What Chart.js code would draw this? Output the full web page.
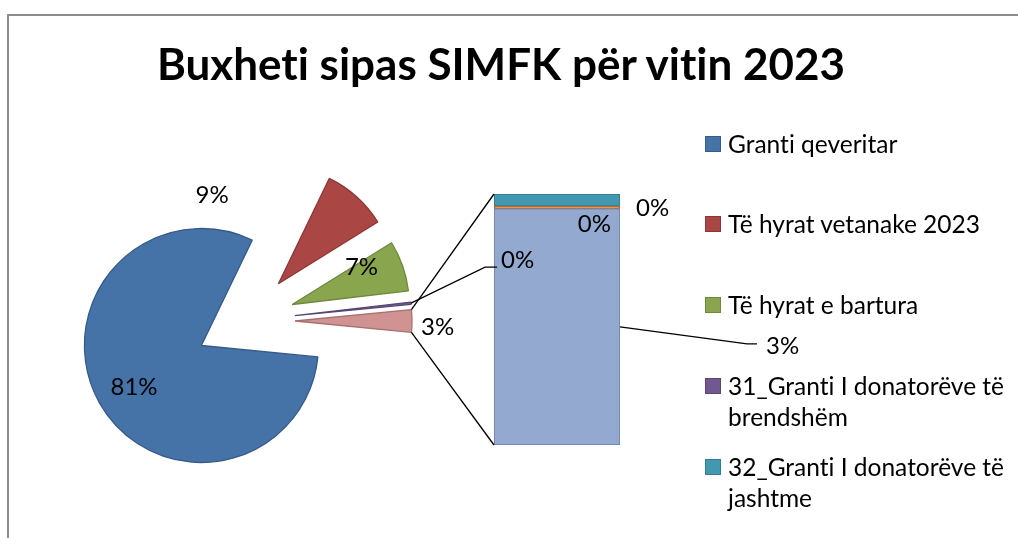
<!DOCTYPE html>
<html>
<head>
<meta charset="utf-8">
<script src="https://cdn.jsdelivr.net/npm/chart.js@4.4.0/dist/chart.umd.min.js"></script>
<style>
  body { margin: 0; background: #fff; font-family: Lato, 'DejaVu Sans', sans-serif; color: #000; font-variant-ligatures: none; }
  #wrap { position: relative; width: 1018px; height: 538px; overflow: hidden; }
  #frame { position: absolute; left: 7px; top: 14px; width: 1100px; height: 600px; border: 2px solid #8c8c8c; }
  #wrap canvas { position: absolute; left: 0; top: 0; }
  #title { position: absolute; left: 0; width: 1002px; top: 35px; text-align: center; font-weight: bold; font-size: 44px; line-height: 56px; }
  #legend { position: absolute; left: 705px; top: 0; font-size: 24.5px; line-height: 31px; }
  .item { position: absolute; left: 0; width: 300px; display: flex; }
  .sw { width: 14px; height: 14px; border: 1px solid; margin-top: 8px; margin-right: 7px; flex: none; }
</style>
</head>
<body>
<div id="wrap">
  <div id="frame"></div>
  <canvas id="pie" width="1018" height="538"></canvas>
  <canvas id="bar" width="1018" height="538"></canvas>
  <div id="title">Buxheti sipas SIMFK për vitin 2023</div>
  <div id="legend"></div>
</div>
<script>
// main pie slices (percent of total budget)
const pieLabels = ['Granti qeveritar', 'Të hyrat vetanake 2023', 'Të hyrat e bartura', '31_Granti I donatorëve të brendshëm'];
const pieValues = [80.6, 9.0, 7.0, 0.3];
const pieColors = ['#4572A7', '#AA4643', '#89A54E', '#71588F'];
const pieBorders = ['#375B88', '#8A3735', '#6F873E', '#5A4674'];

// split of the small "other" slice, shown in the bar (top to bottom)
const barLabels = ['32_Granti I donatorëve të jashtme', 'Kategoria 6', 'Kategoria 7'];
const barValues = [0.15, 0.03, 2.92];
const barColors = ['#4198AF', '#DB843D', '#93A9CF'];
const barBorders = ['#347C8F', '#B56A2E', '#7489B2'];

const otherColor = '#D19392';
const otherBorder = '#A87170';
const legendCount = 5; // the legend box in the original only fits 5 entries

const otherTotal = barValues.reduce((a, b) => a + b, 0);
const grandTotal = pieValues.reduce((a, b) => a + b, 0) + otherTotal;
const otherAngle = otherTotal / grandTotal * 360;
const EXPLODE = 50;
const FONT = '24px Lato';

Chart.defaults.font.family = 'Lato';

function pct(v) {
  return Math.round(v / grandTotal * 100) + '%';
}

// exploded slices: draw every arc moved out along its middle angle
const explodePlugin = {
  id: 'explode',
  beforeDatasetDraw(chart, args) {
    const ctx = chart.ctx;
    args.meta.data.forEach(arc => {
      const mid = (arc.startAngle + arc.endAngle) / 2;
      ctx.save();
      ctx.translate(Math.cos(mid) * EXPLODE, Math.sin(mid) * EXPLODE);
      arc.draw(ctx);
      ctx.restore();
    });
    return false;
  }
};

const pieChart = new Chart(document.getElementById('pie'), {
  type: 'pie',
  data: {
    labels: [...pieLabels, 'Të tjera'],
    datasets: [{
      data: [...pieValues, otherTotal],
      backgroundColor: [...pieColors, otherColor],
      borderColor: [...pieBorders, otherBorder],
      borderWidth: 1.3
    }]
  },
  options: {
    responsive: false,
    animation: false,
    rotation: 90 + otherAngle / 2,
    radius: 117,
    layout: { padding: { left: 0, right: 528, top: 121, bottom: 17 } },
    plugins: { legend: { display: false }, tooltip: { enabled: false } }
  },
  plugins: [explodePlugin]
});

// where Excel put each label, relative to the slice / bar segment
const pieLabelStyle = [
  { r: 0.7, dx: 4, dy: 2, align: 'center' },
  { r: 0.7, dx: -121, dy: -28, align: 'center' },
  { r: 0.7, dx: -8, dy: -10, align: 'center' },
  { r: 1, dx: 90, dy: -43, align: 'left', leader: [[74, -36], [86, -36]] },
  { r: 1, dx: 9, dy: 6, align: 'left' }
];
const barLabelStyle = [
  { dx: 16, dy: 8, align: 'left' },
  { dx: -9, dy: 17, align: 'right' },
  { dx: 146, dy: 19, align: 'left', leader: [[127, 17], [137, 17]] }
];

function arcGeom(arc) {
  const mid = (arc.startAngle + arc.endAngle) / 2;
  const cx = arc.x + Math.cos(mid) * EXPLODE;
  const cy = arc.y + Math.sin(mid) * EXPLODE;
  return { mid, cx, cy, r: arc.outerRadius };
}

function drawLeader(ctx, x0, y0, pts) {
  ctx.beginPath();
  ctx.moveTo(x0, y0);
  pts.forEach(p => ctx.lineTo(x0 + p[0], y0 + p[1]));
  ctx.stroke();
}

const labelPlugin = {
  id: 'pieOfBarLabels',
  afterDraw(chart) {
    const ctx = chart.ctx;
    const arcs = pieChart.getDatasetMeta(0).data;
    const n = barValues.length;
    // bar datasets are stacked bottom-up, so dataset n-1 is the top segment
    const segs = barValues.map((v, i) => chart.getDatasetMeta(n - 1 - i).data[0]);

    ctx.save();
    ctx.strokeStyle = '#000';
    ctx.lineWidth = 1.3;

    // series lines from the "other" slice to the bar
    const other = arcs[arcs.length - 1];
    const g = arcGeom(other);
    const top = segs[0], bottom = segs[n - 1];
    const barLeft = top.x - top.width / 2;
    ctx.beginPath();
    ctx.moveTo(g.cx + Math.cos(other.startAngle) * g.r, g.cy + Math.sin(other.startAngle) * g.r);
    ctx.lineTo(barLeft, top.y);
    ctx.moveTo(g.cx + Math.cos(other.endAngle) * g.r, g.cy + Math.sin(other.endAngle) * g.r);
    ctx.lineTo(barLeft, bottom.base);
    ctx.stroke();

    ctx.font = FONT;
    ctx.fillStyle = '#000';
    ctx.textBaseline = 'middle';

    const pieData = pieChart.data.datasets[0].data;
    arcs.forEach((arc, i) => {
      const s = pieLabelStyle[i];
      const a = arcGeom(arc);
      const px = a.cx + Math.cos(a.mid) * a.r * s.r;
      const py = a.cy + Math.sin(a.mid) * a.r * s.r;
      if (s.leader) drawLeader(ctx, px, py, s.leader);
      ctx.textAlign = s.align;
      ctx.fillText(pct(pieData[i]), px + s.dx, py + s.dy);
    });

    segs.forEach((el, i) => {
      const s = barLabelStyle[i];
      const px = el.x + el.width / 2;
      const py = (el.y + el.base) / 2;
      if (s.leader) drawLeader(ctx, px, py, s.leader);
      ctx.textAlign = s.align;
      ctx.fillText(pct(barValues[i]), px + s.dx, py + s.dy);
    });
    ctx.restore();
  }
};

const barChart = new Chart(document.getElementById('bar'), {
  type: 'bar',
  data: {
    labels: ['Të tjera'],
    datasets: barLabels.map((label, i) => ({
      label: label,
      data: [barValues[i]],
      backgroundColor: barColors[i],
      borderColor: barBorders[i],
      borderWidth: 1.3,
      borderSkipped: false,
      barPercentage: 1,
      categoryPercentage: 1
    })).reverse()
  },
  options: {
    responsive: false,
    animation: false,
    layout: { padding: { left: 494, right: 398, top: 194, bottom: 93 } },
    scales: {
      x: { display: false, stacked: true },
      y: { display: false, stacked: true, min: 0, max: otherTotal }
    },
    plugins: { legend: { display: false }, tooltip: { enabled: false } }
  },
  plugins: [labelPlugin]
});

// legend (Excel style, fixed spacing, long names wrap)
const legendNames = [...pieLabels, ...barLabels].slice(0, legendCount);
const legendFills = [...pieColors, ...barColors];
const legendLines = [...pieBorders, ...barBorders];
const legend = document.getElementById('legend');
legendNames.forEach((name, i) => {
  const item = document.createElement('div');
  item.className = 'item';
  item.style.top = (127.5 + i * 80.75) + 'px';
  const sw = document.createElement('div');
  sw.className = 'sw';
  sw.style.background = legendFills[i];
  sw.style.borderColor = legendLines[i];
  const txt = document.createElement('div');
  txt.textContent = name;
  item.appendChild(sw);
  item.appendChild(txt);
  legend.appendChild(item);
});
</script>
</body>
</html>
